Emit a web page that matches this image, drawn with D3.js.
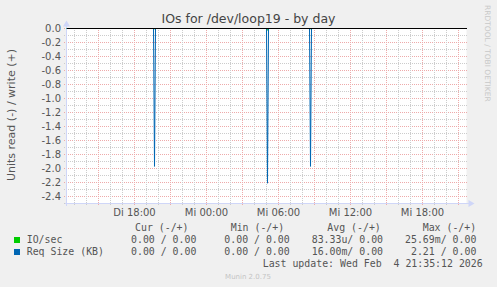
<!DOCTYPE html>
<html>
<head>
<meta charset="utf-8">
<script src="https://cdn.jsdelivr.net/npm/d3@7"></script>
<style>
body { margin: 0; background: #f0f0f0; }
svg text { font-family: "DejaVu Sans", sans-serif; fill: #555; }
svg text.mono { font-family: "DejaVu Sans Mono", monospace; white-space: pre; }
</style>
</head>
<body>
<div id="wrapper"></div>
<script>
const parseTime = d3.utcParse("%Y-%m-%d %H:%M")

// time window of the graph (day view, ~33h)
const timeWindow = ["2026-02-03 12:20", "2026-02-04 21:40"]

// Req Size (KB), read side (drawn negative)
const reqSizeRead = [
    ["2026-02-03 12:20", 0],
    ["2026-02-03 19:35", 0],
    ["2026-02-03 19:40", -1.97],
    ["2026-02-03 19:45", 0],
    ["2026-02-04 05:00", 0],
    ["2026-02-04 05:05", -2.21],
    ["2026-02-04 05:10", 0],
    ["2026-02-04 08:35", 0],
    ["2026-02-04 08:40", -1.97],
    ["2026-02-04 08:45", 0],
    ["2026-02-04 21:40", 0],
]
// IO/sec, read side (drawn negative)
const ioRead = [
    ["2026-02-03 12:20", 0],
    ["2026-02-03 19:35", 0],
    ["2026-02-03 19:40", -0.0038],
    ["2026-02-03 19:45", 0],
    ["2026-02-04 05:00", 0],
    ["2026-02-04 05:05", -0.02569],
    ["2026-02-04 05:10", 0],
    ["2026-02-04 08:35", 0],
    ["2026-02-04 08:40", -0.0038],
    ["2026-02-04 08:45", 0],
    ["2026-02-04 21:40", 0],
]

const yTickValues = [0, -0.2, -0.4, -0.6, -0.8, -1.0, -1.2, -1.4, -1.6, -1.8, -2.0, -2.2, -2.4]
const weekdays = ["So", "Mo", "Di", "Mi", "Do", "Fr", "Sa"]

// legend
const legendHeaders = ["Cur (-/+)", "Min (-/+)", "Avg (-/+)", "Max (-/+)"]
const legendNames = ["IO/sec", "Req Size (KB)"]
const legendColors = ["#00cc00", "#0066b3"]
const legendCur = ["0.00 / 0.00", "0.00 / 0.00"]
const legendMin = ["0.00 / 0.00", "0.00 / 0.00"]
const legendAvg = ["83.33u/ 0.00", "16.00m/ 0.00"]
const legendMax = ["25.69m/ 0.00", " 2.21 / 0.00"]
const lastUpdate = "Last update: Wed Feb  4 21:35:12 2026"

const dimensions = {
    width: 497,
    height: 287,
    left: 66.5,
    right: 466.5,
    top: 28.5,
    bottom: 203.5,
}

const wrapper = d3.select("#wrapper")
    .append("svg")
        .attr("width", dimensions.width)
        .attr("height", dimensions.height)

wrapper.append("rect")
    .attr("width", dimensions.width)
    .attr("height", dimensions.height)
    .attr("fill", "#f0f0f0")

// scales
const xScale = d3.scaleUtc()
    .domain(timeWindow.map(parseTime))
    .range([dimensions.left, dimensions.right])
const yScale = d3.scaleLinear()
    .domain([-2.5, 0])
    .range([dimensions.bottom, dimensions.top])

// canvas
wrapper.append("rect")
    .attr("x", dimensions.left)
    .attr("y", dimensions.top)
    .attr("width", dimensions.right - dimensions.left)
    .attr("height", dimensions.bottom - dimensions.top)
    .attr("fill", "#ffffff")

const grid = wrapper.append("g").attr("shape-rendering", "crispEdges")
const minorColor = "#cccccc"
const majorColor = "#eeaaaa"

// horizontal grid (dashes start on whole pixels so the dots stay sharp)
const majorY = yTickValues.map(d => Math.round(d * 10))
grid.selectAll(".hminor")
    .data(yScale.ticks(25).filter(d => !majorY.includes(Math.round(d * 10))))
    .join("line")
        .attr("x1", dimensions.left - 2.5)
        .attr("x2", dimensions.right + 0.5)
        .attr("y1", d => yScale(d))
        .attr("y2", d => yScale(d))
        .attr("stroke", minorColor)
        .attr("stroke-dasharray", "1,1")
grid.selectAll(".hmajor")
    .data(yTickValues)
    .join("line")
        .attr("x1", dimensions.left - 2.5)
        .attr("x2", dimensions.right + 0.5)
        .attr("y1", d => yScale(d))
        .attr("y2", d => yScale(d))
        .attr("stroke", majorColor)
        .attr("stroke-dasharray", "1,1")

// vertical grid
const hourTicks = xScale.ticks(d3.utcHour.every(1))
grid.selectAll(".vminor")
    .data(hourTicks.filter(d => d.getUTCHours() % 3 != 0))
    .join("line")
        .attr("x1", d => xScale(d))
        .attr("x2", d => xScale(d))
        .attr("y1", dimensions.top - 0.5)
        .attr("y2", dimensions.bottom + 2.5)
        .attr("stroke", minorColor)
        .attr("stroke-dasharray", "1,1")
grid.selectAll(".vmajor")
    .data(hourTicks.filter(d => d.getUTCHours() % 3 == 0))
    .join("line")
        .attr("x1", d => xScale(d))
        .attr("x2", d => xScale(d))
        .attr("y1", dimensions.top - 0.5)
        .attr("y2", dimensions.bottom + 2.5)
        .attr("stroke", majorColor)
        .attr("stroke-dasharray", "1,1")

// axes
const axisColor = "#cfd6f8"
grid.append("line")
    .attr("x1", dimensions.left - 2).attr("x2", dimensions.right + 3)
    .attr("y1", dimensions.bottom).attr("y2", dimensions.bottom)
    .attr("stroke", axisColor)
grid.append("line")
    .attr("x1", dimensions.left).attr("x2", dimensions.left)
    .attr("y1", dimensions.bottom + 2).attr("y2", dimensions.top - 3)
    .attr("stroke", axisColor)
wrapper.append("path")
    .attr("d", `M${dimensions.right + 2},${dimensions.bottom - 3.5} l6,3.5 l-6,3.5 z`)
    .attr("fill", axisColor)
wrapper.append("path")
    .attr("d", `M${dimensions.left - 3.5},${dimensions.top - 2} l3.5,-6 l3.5,6 z`)
    .attr("fill", axisColor)

// series
const lineGenerator = d3.line()
    .x(d => xScale(parseTime(d[0])))
    .y(d => yScale(d[1]))
wrapper.append("path")
    .attr("d", lineGenerator(ioRead))
    .attr("fill", "none")
    .attr("stroke", legendColors[0])
    .attr("stroke-width", 1)
wrapper.append("path")
    .attr("d", lineGenerator(reqSizeRead))
    .attr("fill", "none")
    .attr("stroke", legendColors[1])
    .attr("stroke-width", 1)

// zero line
wrapper.append("line")
    .attr("x1", dimensions.left).attr("x2", dimensions.right)
    .attr("y1", yScale(0)).attr("y2", yScale(0))
    .attr("stroke", "#000")
    .attr("shape-rendering", "crispEdges")

// y labels
wrapper.selectAll(".ylabel")
    .data(yTickValues)
    .join("text")
        .attr("x", 61)
        .attr("y", d => yScale(d))
        .attr("dy", "0.36em")
        .attr("text-anchor", "end")
        .attr("font-size", 10)
        .text(d => d3.format(".1f")(d).replace("−", "-"))

// x labels
const xFormat = d => `${weekdays[d.getUTCDay()]} ${d3.utcFormat("%H:%M")(d)}`
wrapper.selectAll(".xlabel")
    .data(xScale.ticks(d3.utcHour.every(6)))
    .join("text")
        .attr("x", d => xScale(d))
        .attr("y", 216)
        .attr("text-anchor", "middle")
        .attr("font-size", 10)
        .text(xFormat)

// title
wrapper.append("text")
    .attr("x", 248.5)
    .attr("y", 23)
    .attr("text-anchor", "middle")
    .attr("font-size", 12.5)
    .style("fill", "#444")
    .text("IOs for /dev/loop19 - by day")

// y axis title
wrapper.append("text")
    .attr("transform", "translate(14.5,115) rotate(-90)")
    .attr("text-anchor", "middle")
    .attr("font-size", 11)
    .text("Units read (-) / write (+)")

// watermark
wrapper.append("text")
    .attr("transform", "translate(485,5) rotate(90)")
    .attr("font-size", 7.5)
    .style("fill", "#c8c8c8")
    .text("RRDTOOL / TOBI OETIKER")

// legend
const legendFont = 9.9
const colX = [135, 230.7, 327.3, 422.7]
const valX = [131, 224.3, 311.7, 405]
const legend = wrapper.append("g")
legend.selectAll(".hdr")
    .data(legendHeaders)
    .join("text")
        .attr("class", "mono")
        .attr("x", (d, i) => colX[i])
        .attr("y", 231)
        .attr("font-size", legendFont)
        .text(d => d)
legendNames.forEach((name, i) => {
    const y = 243 + i * 12
    legend.append("rect")
        .attr("x", 14).attr("y", y - 6)
        .attr("width", 6).attr("height", 6)
        .attr("fill", legendColors[i])
    const vals = [name, legendCur[i], legendMin[i], legendAvg[i], legendMax[i]]
    const xs = [26.7, ...valX]
    vals.forEach((v, j) => {
        legend.append("text")
            .attr("class", "mono")
            .attr("x", xs[j])
            .attr("y", y)
            .attr("font-size", legendFont)
            .text(v)
    })
})
legend.append("text")
    .attr("class", "mono")
    .attr("x", 482.7)
    .attr("y", 267)
    .attr("text-anchor", "end")
    .attr("font-size", legendFont)
    .text(lastUpdate)

wrapper.append("text")
    .attr("x", 248)
    .attr("y", 278.5)
    .attr("text-anchor", "middle")
    .attr("font-size", 7)
    .style("fill", "#c4c4c4")
    .text("Munin 2.0.75")
</script>
</body>
</html>
